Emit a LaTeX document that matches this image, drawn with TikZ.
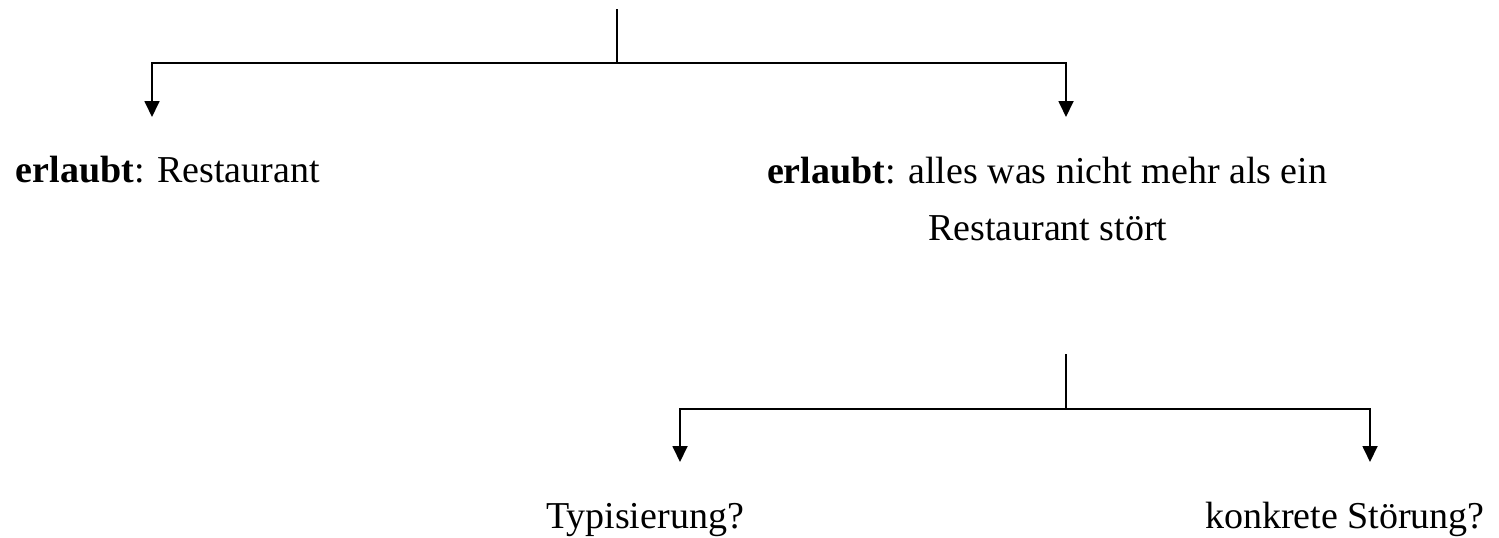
\documentclass[tikz,border=0pt]{standalone}
\usepackage{fontspec}
\setmainfont{Liberation Serif}
\usetikzlibrary{arrows.meta}

\begin{document}
\begin{tikzpicture}[x=1pt,y=-1pt,
    label/.style={anchor=base west,inner sep=0pt,outer sep=0pt,
      font=\fontsize{38}{57}\selectfont},
    branch/.style={line width=1.8pt},
    down/.style={branch,-{Triangle[width=15pt,length=16pt]}}]
  \useasboundingbox (0,0) rectangle (1499,538);

  % labels (the two-line label is anchored on the baseline of its last line)
  \node[label] (restaurant) at (16,182) {\textbf{erlaubt}: Restaurant};
  \node[label,align=left] (stoert) at (767,240)
    {\textbf{erlaubt}: alles was nicht mehr als ein\\
     \hspace*{161pt}Restaurant stört};
  \node[label] (typ) at (546,528) {Typisierung?};
  \node[label] (konkret) at (1205,528) {konkrete Störung?};

  % first fork
  \coordinate (top) at (617,9);
  \coordinate (fork) at (617,63);
  \coordinate (tipA) at (152,117);
  \coordinate (tipB) at (1066,117);
  \draw[branch] (top) -- (fork);
  \draw[down] (fork) -| (tipA);
  \draw[down] (fork) -| (tipB);

  % second fork
  \coordinate (top2) at (1066,354);
  \coordinate (fork2) at (1066,409);
  \coordinate (tipC) at (680,462);
  \coordinate (tipD) at (1370,462);
  \draw[branch] (top2) -- (fork2);
  \draw[down] (fork2) -| (tipC);
  \draw[down] (fork2) -| (tipD);
\end{tikzpicture}
\end{document}
